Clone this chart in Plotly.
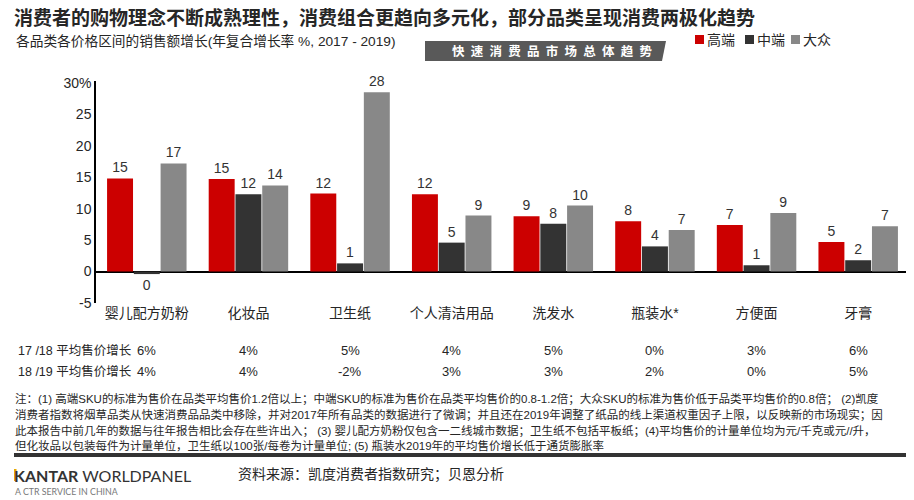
import plotly.graph_objects as go

# categories and series (CAGR %, 2017-2019)
categories = ["婴儿配方奶粉", "化妆品", "卫生纸", "个人清洁用品", "洗发水", "瓶装水*", "方便面", "牙膏"]
high_end = [14.8, 14.7, 12.4, 12.3, 8.8, 8.0, 7.4, 4.7]
mid_end = [-0.4, 12.3, 1.3, 4.6, 7.6, 4.0, 1.0, 1.8]
mass = [17.2, 13.7, 28.5, 8.9, 10.5, 6.6, 9.3, 7.2]
series_names = ["高端", "中端", "大众"]

# average price growth rows
price_1718 = ["6%", "4%", "5%", "4%", "5%", "0%", "3%", "6%"]
price_1819 = ["4%", "4%", "-2%", "3%", "3%", "2%", "0%", "5%"]
row_labels = ["17 /18 平均售价增长", "18 /19 平均售价增长"]

y_tickvals = [-5, 0, 5, 10, 15, 20, 25, 30]
y_ticktext = ["-5", "0", "5", "10", "15", "20", "25", "30%"]

title = "消费者的购物理念不断成熟理性，消费组合更趋向多元化，部分品类呈现消费两极化趋势"
subtitle = "各品类各价格区间的销售额增长(年复合增长率 %, 2017 - 2019)"
banner = "快速消费品市场总体趋势"
notes = [
    "注：(1) 高端SKU的标准为售价在品类平均售价1.2倍以上；中端SKU的标准为售价在品类平均售价的0.8-1.2倍；大众SKU的标准为售价低于品类平均售价的0.8倍； (2)凯度",
    "消费者指数将烟草品类从快速消费品品类中移除，并对2017年所有品类的数据进行了微调；并且还在2019年调整了纸品的线上渠道权重因子上限，以反映新的市场现实；因",
    "此本报告中前几年的数据与往年报告相比会存在些许出入； (3) 婴儿配方奶粉仅包含一二线城市数据；卫生纸不包括平板纸；(4)平均售价的计量单位均为元/千克或元//升，",
    "但化妆品以包装每件为计量单位，卫生纸以100张/每卷为计量单位; (5) 瓶装水2019年的平均售价增长低于通货膨胀率",
]
source = "资料来源：凯度消费者指数研究；贝恩分析"

colors = ["#CC0000", "#333333", "#888888"]
FONT = "Liberation Sans, Noto Sans CJK SC, sans-serif"

# page body has an 8px margin, so the figure is drawn 8px in and kept smaller
OFF = 8
FW, FH = 914 - OFF, 500 - OFF
# plot area in page pixels
L, R, T, B = 96, 909, 81, 303
W, H = R - L, B - T


def px(x):
    return (x - L) / W


def py(y):
    return (B - y) / H


fig = go.Figure()
for name, vals, col in zip(series_names, [high_end, mid_end, mass], colors):
    fig.add_trace(go.Bar(
        x=categories, y=vals, name=name, marker_color=col, marker_line_width=0,
        text=[f"{round(v):.0f}" for v in vals], textposition="outside",
        textfont=dict(size=14, color="#333333", family=FONT), cliponaxis=False,
    ))

ann = []
ann.append(dict(x=px(12), y=py(18), xref="paper", yref="paper", xanchor="left", yanchor="middle",
                text="<b>" + title + "</b>", showarrow=False, font=dict(size=19, color="#262626", family=FONT)))
ann.append(dict(x=px(14), y=py(41), xref="paper", yref="paper", xanchor="left", yanchor="middle",
                text=subtitle, showarrow=False, font=dict(size=13.7, color="#262626", family=FONT)))
ann.append(dict(x=px(552), y=py(51), xref="paper", yref="paper", xanchor="center", yanchor="middle",
                text="<b>" + "\u2002".join(banner) + "</b>", showarrow=False,
                font=dict(size=12.5, color="white", family=FONT)))

# legend
leg_x = [695, 745, 791]
shapes = []
for name, col, lx in zip(series_names, colors, leg_x):
    shapes.append(dict(type="rect", xref="paper", yref="paper", x0=px(lx), x1=px(lx + 9),
                       y0=py(44), y1=py(35), fillcolor=col, line_width=0))
    ann.append(dict(x=px(lx + 10), y=py(40), xref="paper", yref="paper", xanchor="left", yanchor="middle",
                    text=name, showarrow=False, font=dict(size=14, color="#262626", family=FONT)))

# banner shape
shapes.append(dict(type="path", xref="paper", yref="paper",
                   path=f"M {px(425)} {py(41)} L {px(666)} {py(41)} L {px(662)} {py(61)} L {px(425)} {py(61)} Z",
                   fillcolor="#595959", line_width=0))

# price growth rows
for lab, row, yy in zip(row_labels, [price_1718, price_1819], [350, 371]):
    ann.append(dict(x=px(16), y=py(yy), xref="paper", yref="paper", xanchor="left", yanchor="middle",
                    text=lab, showarrow=False, font=dict(size=12.5, color="#262626", family=FONT)))
    for c, v in zip(categories, row):
        ann.append(dict(x=c, y=py(yy), xref="x", yref="paper", xanchor="center", yanchor="middle",
                        text=v, showarrow=False, font=dict(size=13, color="#262626", family=FONT)))

for line, yy in zip(notes, [398, 414, 430, 446]):
    ann.append(dict(x=px(13), y=py(yy), xref="paper", yref="paper", xanchor="left", yanchor="middle",
                    text=line, showarrow=False, align="left",
                    font=dict(size=11.5, color="#262626", family=FONT)))

shapes.append(dict(type="rect", xref="paper", yref="paper", x0=px(14), x1=px(906),
                   y0=py(457), y1=py(453), fillcolor="#333333", line_width=0))

# footer
ann.append(dict(x=px(12), y=py(475), xref="paper", yref="paper", xanchor="left", yanchor="middle",
                text="<b>KANTAR</b> WORLDPANEL", showarrow=False,
                font=dict(size=16, color="#333333", family="Lato, Liberation Sans, sans-serif")))
shapes.append(dict(type="rect", xref="paper", yref="paper", x0=px(14), x1=px(16.5),
                   y0=py(481), y1=py(469), fillcolor="#E8A800", line_width=0))
ann.append(dict(x=px(13), y=py(491), xref="paper", yref="paper", xanchor="left", yanchor="middle",
                text="A CTR SERVICE IN CHINA", showarrow=False,
                font=dict(size=8.8, color="#777777", family="Lato, Liberation Sans, sans-serif")))
ann.append(dict(x=px(236), y=py(474), xref="paper", yref="paper", xanchor="left", yanchor="middle",
                text=source, showarrow=False, font=dict(size=14, color="#262626", family=FONT)))

fig.update_layout(
    width=FW, height=FH,
    margin=dict(l=L - OFF, r=914 - R, t=T - OFF, b=500 - B),
    paper_bgcolor="white", plot_bgcolor="white",
    barmode="group", bargap=0.21, bargroupgap=0.03,
    showlegend=False,
    annotations=ann, shapes=shapes,
    font=dict(family=FONT, color="#262626"),
)
fig.update_xaxes(showline=False, showgrid=False, ticks="", tickfont=dict(size=14, color="#262626"))
fig.update_yaxes(range=[-5, 30.3], tickvals=y_tickvals, ticktext=y_ticktext, showgrid=False,
                 showline=True, linecolor="black", linewidth=1.5, ticks="",
                 zeroline=True, zerolinecolor="black", zerolinewidth=1.5,
                 tickfont=dict(size=14, color="#262626"))

fig.write_html("out.html")
